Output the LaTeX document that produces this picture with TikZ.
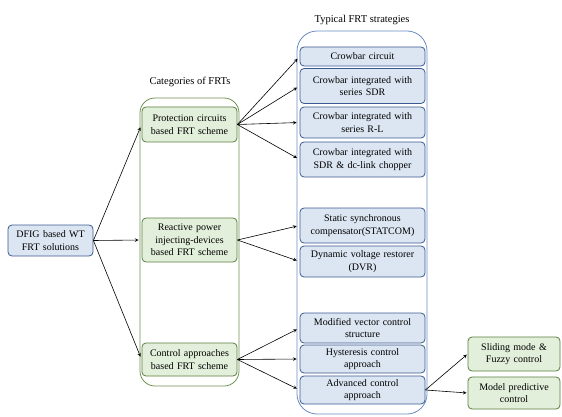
\documentclass[tikz,border=0pt]{standalone}
\usepackage{fontspec}
\setmainfont{Liberation Serif}
\usepackage{xcolor}
\usepackage{tikz}
\definecolor{cbfill}{HTML}{DCE6F2}
\definecolor{cbline}{HTML}{3B5A92}
\definecolor{cbouter}{HTML}{6A8CC2}
\definecolor{cgfill}{HTML}{E2EFDA}
\definecolor{cgline}{HTML}{5B7F3F}
\definecolor{cgouter}{HTML}{6E9150}

\tikzset{
  frtbox/.style={rectangle,rounded corners=4pt,align=center,inner xsep=2pt,inner ysep=1pt,
    line width=0.8pt,font=\fontsize{10}{12.5}\selectfont},
  stratbox/.style={frtbox,draw=cbline,fill=cbfill,text width=121pt},
  catbox/.style={frtbox,draw=cgline,fill=cgfill,text width=91pt},
  subbox/.style={frtbox,draw=cgline,fill=cgfill,text width=88pt},
  rootbox/.style={frtbox,draw=cbline,fill=cbfill,text width=81pt},
  link/.style={->,line width=0.6pt,shorten >=3pt}
}

\begin{document}
\begin{tikzpicture}[>=stealth,x=1pt,y=-1pt]
  \useasboundingbox (0,0) rectangle (562,417);
  % group frames
  \draw[cgouter,line width=0.8pt,rounded corners=15pt] (140,98) rectangle (239,386);
  \draw[cbouter,line width=0.8pt,rounded corners=20pt] (297,31) rectangle (427,414);
  \node[font=\fontsize{10.5}{12}\selectfont] (catlabel) at (190,82) {Categories of FRTs};
  \node[font=\fontsize{10.5}{12}\selectfont] (stratlabel) at (362,20) {Typical FRT strategies};

  \node[rootbox,minimum height=31pt] (dfig) at (50.5,240.5) {DFIG based WT\\FRT solutions};

  \node[catbox,minimum height=35pt] (prot) at (189.5,124.5) {Protection circuits\\based FRT scheme};
  \node[catbox,minimum height=44pt] (react) at (189.5,240) {Reactive power\\injecting-devices\\based FRT scheme};
  \node[catbox,minimum height=33pt] (ctrl) at (189.5,359.5) {Control approaches\\based FRT scheme};

  \node[stratbox,minimum height=19pt] (crow) at (362.5,56.5) {Crowbar circuit};
  \node[stratbox,minimum height=35pt] (sdr) at (362.5,86) {Crowbar integrated with\\series SDR};
  \node[stratbox,minimum height=31pt] (rl) at (362.5,122.5) {Crowbar integrated with\\series R-L};
  \node[stratbox,minimum height=35pt] (chop) at (362.5,159.5) {Crowbar integrated with\\SDR \& dc-link chopper};
  \node[stratbox,minimum height=35pt] (statcom) at (362.5,225.5) {Static synchronous\\compensator(STATCOM)};
  \node[stratbox,minimum height=31pt] (dvr) at (362.5,261.5) {Dynamic voltage restorer\\(DVR)};
  \node[stratbox,minimum height=30pt] (vector) at (362.5,328) {Modified vector control\\structure};
  \node[stratbox,minimum height=28pt] (hyst) at (362.5,359) {Hysteresis control\\approach};
  \node[stratbox,minimum height=28pt] (adv) at (362.5,390) {Advanced control\\approach};

  \node[subbox,minimum height=34pt] (smc) at (514,354) {Sliding mode \&\\Fuzzy control};
  \node[subbox,minimum height=32pt] (mpc) at (514,393) {Model predictive\\control};

  % connectors
  \foreach \t in {prot,react,ctrl} \draw[link] (dfig.east) -- (\t.west);
  \foreach \t in {crow,sdr,rl,chop} \draw[link] (prot.east) -- (\t.west);
  \foreach \t in {statcom,dvr} \draw[link] (react.east) -- (\t.west);
  \foreach \t in {vector,hyst,adv} \draw[link] (ctrl.east) -- (\t.west);
  \draw[link,shorten >=1pt] (adv.east) -- (smc.west);
  \draw[link,shorten >=1pt] (adv.east) -- (mpc.west);
\end{tikzpicture}
\end{document}
